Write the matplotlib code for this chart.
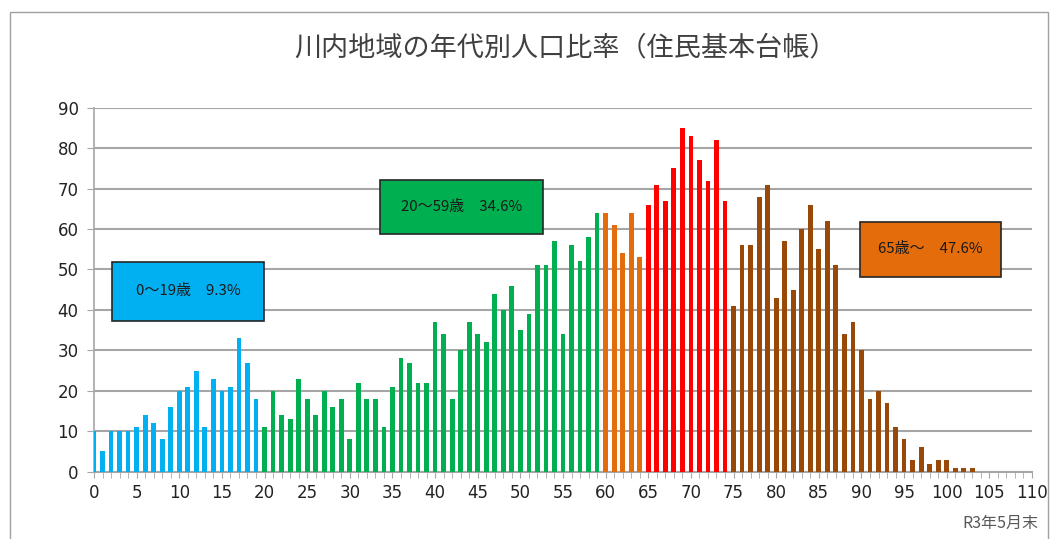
import matplotlib
matplotlib.use("Agg")
import matplotlib.pyplot as plt
from matplotlib.patches import Rectangle
import numpy as np

plt.rcParams['font.family'] = ['Noto Sans CJK JP', 'DejaVu Sans']

title = "川内地域の年代別人口比率（住民基本台帳）"
footer = "R3年5月末"

ages = list(range(0, 111))
counts = [
    10, 5, 10, 10, 10, 11, 14, 12, 8, 16,      # 0-9
    20, 21, 25, 11, 23, 20, 21, 33, 27, 18,    # 10-19
    11, 20, 14, 13, 23, 18, 14, 20, 16, 18,    # 20-29
    8, 22, 18, 18, 11, 21, 28, 27, 22, 22,     # 30-39
    37, 34, 18, 30, 37, 34, 32, 44, 40, 46,    # 40-49
    35, 39, 51, 51, 57, 34, 56, 52, 58, 64,    # 50-59
    64, 61, 54, 64, 53, 66, 71, 67, 75, 85,    # 60-69
    83, 77, 72, 82, 67, 41, 56, 56, 68, 71,    # 70-79
    43, 57, 45, 60, 66, 55, 62, 51, 34, 37,    # 80-89
    30, 18, 20, 17, 11, 8, 3, 6, 2, 3,         # 90-99
    3, 1, 1, 1, 0, 0, 0, 0, 0, 0, 0,           # 100-110
]

group_labels = ["0〜19歳　9.3%", "20〜59歳　34.6%", "65歳〜　47.6%"]

BLUE = "#00B0F0"
GREEN = "#00B050"
ORANGE = "#E46C0A"
RED = "#FF0000"
BROWN = "#984807"

def color_for(a):
    if a <= 19:
        return BLUE
    if a <= 59:
        return GREEN
    if a <= 64:
        return ORANGE
    if a <= 74:
        return RED
    return BROWN

W, H = 1059, 539
fig = plt.figure(figsize=(W / 100, H / 100), dpi=100)
ax = fig.add_axes([94 / W, 1 - 471.7 / H, (1032 - 94) / W, (471.7 - 107.7) / H])

ax.bar(ages, counts, width=0.56, color=[color_for(a) for a in ages],
       edgecolor='none', zorder=3)

ax.set_xlim(0, 110)
ax.set_ylim(0, 90)
ax.set_yticks(np.arange(0, 91, 10))
ax.set_xticks(np.arange(0, 111, 5))
ax.set_xticks(np.arange(0, 111, 1), minor=True)

grid_c = "#A6A6A6"
ax.yaxis.grid(True, color=grid_c, linewidth=1.5, zorder=0)
ax.set_axisbelow(True)
for s in ['top', 'right']:
    ax.spines[s].set_visible(False)
ax.spines['left'].set_color(grid_c)
ax.spines['bottom'].set_color(grid_c)
ax.spines['left'].set_linewidth(1.2)
ax.spines['bottom'].set_linewidth(1.5)
ax.tick_params(axis='y', length=5, color=grid_c, labelsize=12, pad=6, labelcolor="#222222")
ax.tick_params(axis='x', which='both', length=4.5, color=grid_c, labelsize=12,
               pad=4, labelcolor="#222222")
for lbl in ax.get_xticklabels() + ax.get_yticklabels():
    lbl.set_family(['DejaVu Sans'])

fig.text(566 / W, 1 - 48 / H, title, ha='center', va='center', fontsize=19.5,
         color="#404040")

# group label boxes (pixel coordinates of the figure)
boxes = [
    (112, 262, 264, 321, BLUE),
    (380, 180, 543, 234, GREEN),
    (860, 222, 1001, 277, ORANGE),
]
for (x0, y0, x1, y1, c), lab in zip(boxes, group_labels):
    r = Rectangle((x0 / W, 1 - y1 / H), (x1 - x0) / W, (y1 - y0) / H,
                  transform=fig.transFigure, facecolor=c, edgecolor="#262626",
                  linewidth=1.2, zorder=5)
    fig.add_artist(r)
    fig.text((x0 + x1) / 2 / W, 1 - (y0 + y1) / 2 / H, lab, ha='center',
             va='center', fontsize=10.8, color="#1a1a1a", zorder=6)

fig.text(1038 / W, 1 - 523 / H, footer, ha='right', va='center', fontsize=11.5,
         color="#595959")

frame = Rectangle((10 / W, -0.05), (1048 - 10) / W, 1 - 12 / H + 0.05,
                  transform=fig.transFigure, facecolor='none',
                  edgecolor="#A0A0A0", linewidth=1.0)
fig.add_artist(frame)

fig.savefig("out.png", dpi=100)
